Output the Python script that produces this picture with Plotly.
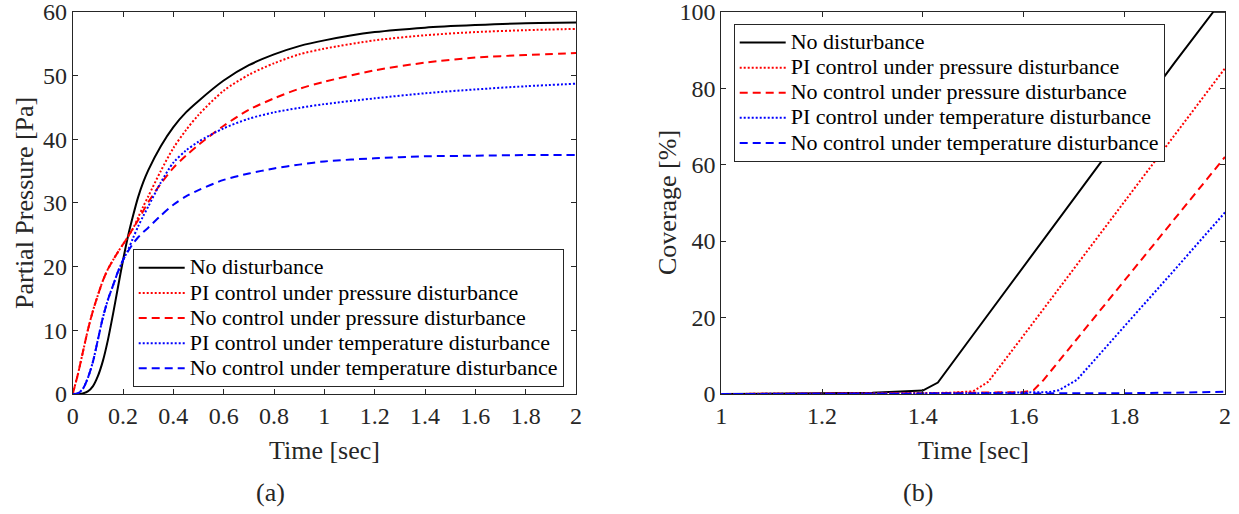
import plotly.graph_objects as go

W, H = 1239, 514

# ---------------- (a) Partial pressure ----------------
time_a = [0, 0.02, 0.04, 0.06, 0.08, 0.1, 0.12, 0.14, 0.16, 0.18, 0.2, 0.22, 0.24, 0.26, 0.28,
          0.3, 0.35, 0.4, 0.45, 0.5, 0.6, 0.7, 0.8, 0.9, 1.0, 1.2, 1.4, 1.6, 1.8, 2.0]
p_no_dist = [0, 0.02, 0.1, 0.4, 1.2, 2.8, 5.2, 8.5, 12.5, 16.8, 21, 24.8, 28.0, 30.9, 33.2,
             35.1, 38.9, 41.9, 44.2, 46.0, 49.2, 51.6, 53.3, 54.6, 55.5, 56.8, 57.5, 57.9, 58.2, 58.3]
p_pi_press = [0, 3, 6.5, 10, 13, 15.5, 17.8, 19.6, 21, 22.3, 23.5, 24.7, 26, 27.7, 29.4,
              31.0, 35.0, 38.6, 41.4, 43.8, 47.6, 50.1, 51.9, 53.3, 54.2, 55.5, 56.3, 56.8, 57.1, 57.3]
p_nc_press = [0, 3, 6.5, 10, 13, 15.5, 17.8, 19.6, 21, 22.3, 23.5, 24.7, 26, 27.3, 28.7,
              30.1, 33.0, 35.5, 37.4, 39.1, 42.1, 44.6, 46.4, 47.9, 49.0, 50.8, 52.0, 52.8, 53.2, 53.5]
p_pi_temp = [0, 0.1, 0.8, 2.5, 5, 8.5, 12, 14.8, 17, 19.2, 21, 22.6, 24.5, 26.3, 27.9,
             29.4, 33.2, 36.3, 38.2, 39.6, 41.7, 43.2, 44.2, 44.9, 45.5, 46.4, 47.2, 47.8, 48.3, 48.7]
p_nc_temp = [0, 0.1, 0.8, 2.5, 5, 8.5, 12, 14.8, 17, 19.2, 21, 22.4, 23.6, 24.6, 25.4,
             26.1, 28.0, 29.7, 31.0, 32.0, 33.6, 34.6, 35.4, 36.0, 36.5, 37.0, 37.3, 37.4, 37.5, 37.5]

# ---------------- (b) Coverage ----------------
t_b_no_dist = [1.0, 1.2, 1.3, 1.4, 1.43, 1.5, 1.6, 1.7, 1.8, 1.9, 1.977, 2.0]
c_no_dist = [0, 0.1, 0.3, 0.9, 3, 15.5, 33.3, 51, 68.9, 86.7, 100, 100]
t_b_pi_press = [1.0, 1.3, 1.45, 1.5, 1.53, 1.6, 1.7, 1.8, 1.9, 2.0]
c_pi_press = [0, 0.1, 0.3, 0.7, 3.2, 15.3, 32.8, 50.3, 67.8, 85.2]
t_b_nc_press = [1.0, 1.4, 1.6, 1.62, 1.64, 1.7, 1.8, 1.9, 2.0]
c_nc_press = [0, 0.2, 0.5, 1.0, 3.7, 13.4, 29.6, 45.8, 62]
t_b_pi_temp = [1.0, 1.5, 1.65, 1.67, 1.706, 1.8, 1.9, 2.0]
c_pi_temp = [0, 0.2, 0.5, 1.0, 3.7, 17.6, 32.5, 47.5]
t_b_nc_temp = [1.0, 1.5, 1.7, 1.8, 1.9, 2.0]
c_nc_temp = [0, 0.05, 0.1, 0.2, 0.35, 0.6]

names = ["No disturbance",
         "PI control under pressure disturbance",
         "No control under pressure disturbance",
         "PI control under temperature disturbance",
         "No control under temperature disturbance"]

xticks_a = [0, 0.2, 0.4, 0.6, 0.8, 1, 1.2, 1.4, 1.6, 1.8, 2]
xtick_text_a = ["0", "0.2", "0.4", "0.6", "0.8", "1", "1.2", "1.4", "1.6", "1.8", "2"]
yticks_a = [0, 10, 20, 30, 40, 50, 60]
xticks_b = [1, 1.2, 1.4, 1.6, 1.8, 2]
xtick_text_b = ["1", "1.2", "1.4", "1.6", "1.8", "2"]
yticks_b = [0, 20, 40, 60, 80, 100]

styles = [
    dict(color="black", width=2, dash="solid"),
    dict(color="#FF0000", width=2, dash="2px,2px"),
    dict(color="#FF0000", width=2, dash="8px,5px"),
    dict(color="#0000FF", width=2, dash="2px,2px"),
    dict(color="#0000FF", width=2, dash="8px,5px"),
]

FONT = "Liberation Serif"
GRAY = "#262626"

def legname(s):
    return "<span style='font-size:22px'>" + s + "</span>"

fig = go.Figure()

series_a = [p_no_dist, p_pi_press, p_nc_press, p_pi_temp, p_nc_temp]
for nm, ys, st in zip(names, series_a, styles):
    fig.add_trace(go.Scatter(x=time_a, y=ys, mode="lines", name=legname(nm),
                             line=dict(shape="spline", smoothing=0.8, **st),
                             xaxis="x", yaxis="y", legend="legend"))

series_b = [(t_b_no_dist, c_no_dist), (t_b_pi_press, c_pi_press), (t_b_nc_press, c_nc_press),
            (t_b_pi_temp, c_pi_temp), (t_b_nc_temp, c_nc_temp)]
for nm, (xs, ys), st in zip(names, series_b, styles):
    fig.add_trace(go.Scatter(x=xs, y=ys, mode="lines", name=legname(nm),
                             line=st, xaxis="x2", yaxis="y2", legend="legend2"))

def ax(**kw):
    base = dict(showgrid=False, zeroline=False, showline=True, linecolor=GRAY, linewidth=1,
                mirror="ticks", ticks="inside", ticklen=5, tickcolor=GRAY, tickwidth=1,
                ticklabeloverflow="allow", automargin=False,
                tickfont=dict(family=FONT, size=24, color=GRAY))
    base.update(kw)
    return base

ya_bot = 1 - 394 / H
ya_top = 1 - 11.7 / H

legend_common = dict(xanchor="left", yanchor="top", bgcolor="white", bordercolor=GRAY,
                     borderwidth=1, font=dict(family=FONT, size=17, color="black"),
                     itemwidth=46, tracegroupgap=0)

fig.update_layout(
    width=W, height=H, paper_bgcolor="white", plot_bgcolor="white",
    margin=dict(l=0, r=0, t=0, b=0, pad=0, autoexpand=False),
    xaxis=ax(domain=[72.7 / W, 576 / W], range=[0, 2], tickvals=xticks_a, ticktext=xtick_text_a,
             anchor="y"),
    yaxis=ax(domain=[ya_bot, ya_top], range=[0, 60], tickvals=yticks_a, anchor="x"),
    xaxis2=ax(domain=[721.3 / W, 1225 / W], range=[1, 2], tickvals=xticks_b, ticktext=xtick_text_b,
              anchor="y2"),
    yaxis2=ax(domain=[ya_bot, ya_top], range=[0, 100], tickvals=yticks_b, anchor="x2"),
    legend=dict(x=132.7 / W, y=1 - 249.3 / H, **legend_common),
    legend2=dict(x=733.7 / W, y=1 - 24 / H, **legend_common),
    showlegend=True,
)

ann_font = dict(family=FONT, size=26, color=GRAY)
annotations = [
    dict(text="Time [sec]", x=324 / W, y=1 - 450 / H, xref="paper", yref="paper",
         showarrow=False, font=ann_font, xanchor="center", yanchor="middle"),
    dict(text="Time [sec]", x=973 / W, y=1 - 450 / H, xref="paper", yref="paper",
         showarrow=False, font=ann_font, xanchor="center", yanchor="middle"),
    dict(text="Partial Pressure [Pa]", x=25 / W, y=1 - 203 / H, xref="paper", yref="paper",
         showarrow=False, font=ann_font, textangle=-90, xanchor="center", yanchor="middle"),
    dict(text="Coverage [%]", x=668 / W, y=1 - 203 / H, xref="paper", yref="paper",
         showarrow=False, font=ann_font, textangle=-90, xanchor="center", yanchor="middle"),
    dict(text="(a)", x=270 / W, y=1 - 492 / H, xref="paper", yref="paper",
         showarrow=False, font=ann_font, xanchor="center", yanchor="middle"),
    dict(text="(b)", x=918 / W, y=1 - 492 / H, xref="paper", yref="paper",
         showarrow=False, font=ann_font, xanchor="center", yanchor="middle"),
]
fig.update_layout(annotations=annotations)

fig.write_html("out.html", config={"displayModeBar": False},
               post_script="document.body.style.margin='0px';document.body.style.overflow='hidden';")
